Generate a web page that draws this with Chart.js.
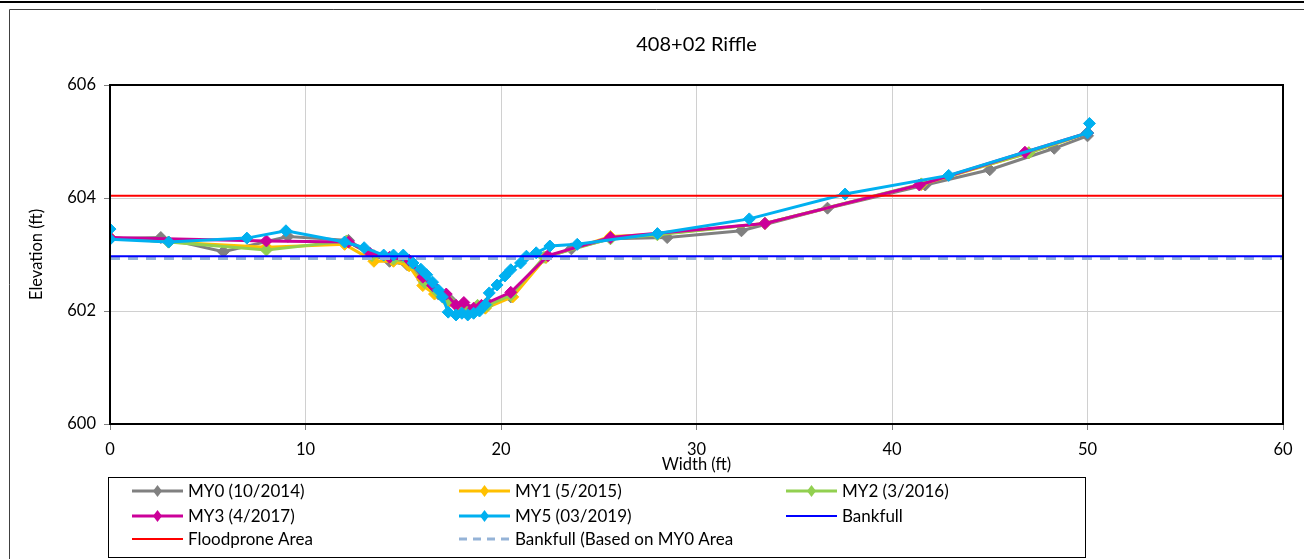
<!DOCTYPE html>
<html>
<head>
<meta charset="utf-8">
<script src="https://cdn.jsdelivr.net/npm/chart.js@4.4.1/dist/chart.umd.min.js"></script>
<style>
  html, body { margin: 0; padding: 0; background: #fff; }
</style>
</head>
<body>
<canvas id="xsec" width="1304" height="559"></canvas>
<script>
const chartTitle = '408+02 Riffle';
const seriesNames = ['MY0 (10/2014)', 'MY1 (5/2015)', 'MY2 (3/2016)', 'MY3 (4/2017)', 'MY5 (03/2019)',
  'Bankfull', 'Floodprone Area', 'Bankfull (Based on MY0 Area'];

// station (ft) / elevation (ft) per survey
const my0Width = [0, 2.6, 5.8, 9.1, 12.2, 13.5, 14.3, 15.2, 16.0, 16.8, 17.4, 18.0, 18.8, 19.3, 20.5, 22.3, 23.6, 25.6, 28.5, 32.3, 36.7, 41.7, 45.0, 48.3, 50.0];
const my0Elev = [603.28, 603.3, 603.05, 603.32, 603.25, 602.98, 602.88, 602.82, 602.55, 602.3, 602.2, 602.1, 602.08, 602.15, 602.25, 602.95, 603.1, 603.28, 603.3, 603.42, 603.82, 604.23, 604.5, 604.88, 605.1];

const my1Width = [0, 3.0, 8.0, 12.0, 13.5, 14.5, 15.3, 16.0, 16.6, 17.3, 17.9, 18.6, 19.2, 20.6, 22.3, 25.6, 28.0, 33.5, 41.5, 47.0, 50.0];
const my1Elev = [603.3, 603.22, 603.13, 603.18, 602.88, 602.88, 602.8, 602.45, 602.3, 602.15, 602.05, 602.02, 602.05, 602.25, 602.95, 603.32, 603.36, 603.55, 604.24, 604.8, 605.15];

const my2Width = [0, 3.0, 8.0, 12.1, 13.4, 14.5, 15.4, 16.1, 16.7, 17.3, 18.0, 18.8, 19.3, 20.5, 22.2, 25.6, 28.0, 33.5, 41.5, 47.0, 50.0];
const my2Elev = [603.3, 603.22, 603.08, 603.24, 602.98, 602.92, 602.85, 602.5, 602.35, 602.2, 602.05, 602.1, 602.1, 602.28, 602.95, 603.28, 603.35, 603.55, 604.25, 604.8, 605.15];

const my3Width = [0, 8.0, 12.2, 13.3, 14.3, 15.3, 16.0, 16.5, 17.2, 17.7, 18.1, 18.6, 19.0, 20.5, 22.4, 25.6, 33.5, 41.4, 46.8, 50.0];
const my3Elev = [603.3, 603.24, 603.22, 603.02, 602.95, 602.9, 602.6, 602.45, 602.3, 602.1, 602.15, 602.05, 602.1, 602.33, 602.98, 603.3, 603.55, 604.23, 604.81, 605.15];

const my5Width = [0, 0, 3.0, 7.0, 9.0, 12.0, 13.0, 14.0, 14.5, 15.0, 15.5, 15.9, 16.2, 16.5, 16.8, 17.0, 17.3, 17.7, 18.0, 18.3, 18.6, 18.9, 19.2, 19.4, 19.8, 20.2, 20.5, 21.0, 21.3, 21.8, 22.5, 23.9, 28.0, 32.7, 37.6, 42.9, 50.0, 50.1];
const my5Elev = [603.45, 603.27, 603.22, 603.29, 603.42, 603.22, 603.12, 602.99, 602.99, 602.99, 602.85, 602.74, 602.64, 602.51, 602.37, 602.25, 601.98, 601.93, 601.96, 601.93, 601.96, 602.0, 602.11, 602.32, 602.46, 602.62, 602.73, 602.85, 602.97, 603.03, 603.15, 603.18, 603.37, 603.63, 604.07, 604.4, 605.15, 605.32];

// reference elevations, drawn across the whole width axis
const bankfullElev = 602.97;
const floodproneElev = 604.04;
const bankfullMy0Elev = 602.93;
const widthTicks = [0, 60, 10];
const elevTicks = [600, 606, 2];

const pts = (xs, ys) => xs.map((x, i) => ({ x: x, y: ys[i] }));
const flat = (y) => [{ x: widthTicks[0], y: y }, { x: widthTicks[1], y: y }];

const FONT = 'Lato, "Liberation Sans", sans-serif';

function survey(label, data, color, order) {
  return {
    label: label, data: data, order: order,
    borderColor: color, backgroundColor: color,
    borderWidth: 3, pointStyle: 'rectRot', pointRadius: 6,
    pointBorderWidth: 1, showLine: true, tension: 0
  };
}
function level(label, y, color, width, dash, order) {
  return {
    label: label, data: flat(y), order: order,
    borderColor: color, backgroundColor: color,
    borderWidth: width, borderDash: dash, pointRadius: 0, showLine: true
  };
}

const datasets = [
  survey(seriesNames[0], pts(my0Width, my0Elev), '#808080', 6),
  survey(seriesNames[1], pts(my1Width, my1Elev), '#FFC000', 5),
  survey(seriesNames[2], pts(my2Width, my2Elev), '#92D050', 4),
  survey(seriesNames[3], pts(my3Width, my3Elev), '#CC0099', 3),
  survey(seriesNames[4], pts(my5Width, my5Elev), '#00B0F0', 2),
  level(seriesNames[5], bankfullElev, '#0000FF', 2, [], 0),
  level(seriesNames[6], floodproneElev, '#FF0000', 2, [], 0),
  level(seriesNames[7], bankfullMy0Elev, '#95B3D7', 3, [10, 8], 1)
];

/*-- frame, title, box legend --*/
const decor = {
  id: 'decor',
  beforeDraw(chart) {
    const c = chart.ctx;
    c.save();
    c.fillStyle = '#fff';
    c.fillRect(0, 0, chart.width, chart.height);
    c.restore();
  },
  afterDraw(chart) {
    const c = chart.ctx;
    const a = chart.chartArea;
    c.save();
    // plot border
    c.strokeStyle = '#000';
    c.lineWidth = 2;
    c.strokeRect(a.left, a.top, a.right - a.left, a.bottom - a.top);
    // outer frame
    c.lineWidth = 2;
    c.beginPath();
    c.moveTo(0, 2); c.lineTo(chart.width, 2);
    c.stroke();
    c.lineWidth = 1;
    c.strokeStyle = '#404040';
    c.beginPath();
    c.moveTo(9.5, chart.height); c.lineTo(9.5, 9.5); c.lineTo(chart.width, 9.5);
    c.stroke();
    // title
    c.fillStyle = '#000';
    c.font = '20px ' + FONT;
    c.textAlign = 'center';
    c.textBaseline = 'middle';
    c.fillText(chartTitle, (a.left + a.right) / 2, 45);
    // legend box
    c.strokeStyle = '#000';
    c.lineWidth = 1;
    c.strokeRect(108.5, 477.5, 977, 80);
    const colX = [132, 459, 786];
    const rowY = [491, 516, 539];
    c.font = '17px ' + FONT;
    c.textAlign = 'left';
    chart.data.datasets.forEach((ds, i) => {
      const x = colX[i % 3], y = rowY[Math.floor(i / 3)];
      c.strokeStyle = ds.borderColor;
      c.lineWidth = ds.borderWidth;
      c.setLineDash(ds.borderDash && ds.borderDash.length ? [8, 6] : []);
      c.beginPath();
      c.moveTo(x, y); c.lineTo(x + 51, y);
      c.stroke();
      c.setLineDash([]);
      if (ds.pointRadius > 0) {
        c.fillStyle = ds.backgroundColor;
        c.beginPath();
        c.moveTo(x + 25.5, y - 6); c.lineTo(x + 30, y);
        c.lineTo(x + 25.5, y + 6); c.lineTo(x + 21, y);
        c.closePath();
        c.fill();
      }
      c.fillStyle = '#000';
      c.fillText(ds.label, x + 56, y + 1);
    });
    c.restore();
  }
};

const ctx = document.getElementById('xsec').getContext('2d');
const xsecChart = new Chart(ctx, {
  type: 'scatter',
  data: { datasets: datasets },
  options: {
    responsive: false,
    animation: false,
    layout: { padding: { left: 9, top: 85, right: 21, bottom: 83 } },
    plugins: { legend: { display: false }, title: { display: false }, tooltip: { enabled: false } },
    scales: {
      x: {
        type: 'linear', min: widthTicks[0], max: widthTicks[1],
        ticks: { stepSize: widthTicks[2], color: '#000', font: { size: 16.5, family: FONT }, padding: 10, maxRotation: 0 },
        grid: { color: '#D0D0D0', tickLength: 6, tickColor: '#808080' },
        border: { color: '#000', width: 2 },
        title: { display: true, text: 'Width (ft)', color: '#000', font: { size: 16.5, family: FONT }, padding: { top: 0, bottom: 1 } },
        afterFit(scale) { scale.height = 52; }
      },
      y: {
        type: 'linear', min: elevTicks[0], max: elevTicks[1],
        ticks: { stepSize: elevTicks[2], color: '#000', font: { size: 16.5, family: FONT }, padding: 8 },
        grid: { color: '#D0D0D0', tickLength: 6, tickColor: '#808080' },
        border: { color: '#000', width: 2 },
        title: { display: true, text: 'Elevation (ft)', color: '#000', font: { size: 16.5, family: FONT }, padding: { top: 18, bottom: 0 } },
        afterFit(scale) { scale.width = 101; }
      }
    }
  },
  plugins: [decor]
});
</script>
</body>
</html>
